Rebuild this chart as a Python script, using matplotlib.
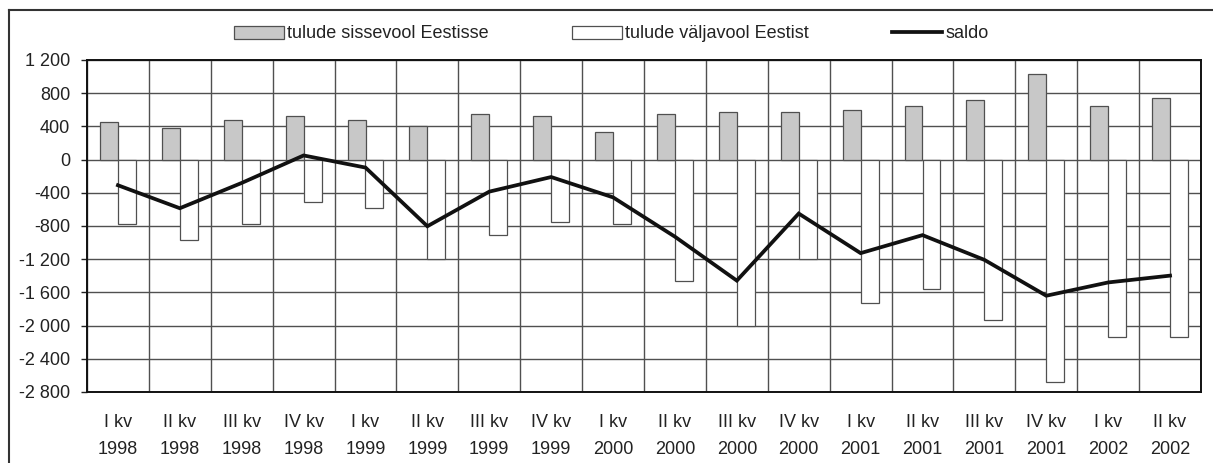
"""Tulude sissevool / väljavool Eestis, kvartalite kaupa 1998-2002"""
import numpy as np
from matplotlib import pyplot as plt
from matplotlib.lines import Line2D
from matplotlib.ticker import FuncFormatter

plt.rcParams['font.family'] = ['Liberation Sans', 'DejaVu Sans']

# ---------------- data ----------------
quarters = ["I kv", "II kv", "III kv", "IV kv", "I kv", "II kv", "III kv",
            "IV kv", "I kv", "II kv", "III kv", "IV kv", "I kv", "II kv",
            "III kv", "IV kv", "I kv", "II kv"]
years = ["1998", "1998", "1998", "1998", "1999", "1999", "1999", "1999",
         "2000", "2000", "2000", "2000", "2001", "2001", "2001", "2001",
         "2002", "2002"]
inflow = [454, 386, 482, 530, 482, 405, 554, 530, 335,
          554, 578, 578, 602, 651, 723, 1036, 651, 747]
outflow = [-775, -969, -775, -506, -578, -1200, -910, -748, -773,
           -1466, -2000, -1200, -1732, -1565, -1927, -2676, -2143, -2143]
saldo = [-309, -586, -281, 50, -96, -803, -386, -210, -455,
         -929, -1458, -650, -1127, -910, -1208, -1640, -1480, -1398]
y_ticks = list(range(-2800, 1201, 400))

GRID = "#505050"
TXT = "#222222"
FS = 13

f = plt.figure(figsize=(12.13, 4.63), dpi=100)
ax = f.add_axes([87 / 1213, 1 - 392 / 463, (1201 - 87) / 1213, 332 / 463])

x = np.arange(len(quarters))
w = 0.29
b1 = ax.bar(x - w / 2, inflow, w, color="#c8c8c8", edgecolor="#505050",
            linewidth=0.9, zorder=2, label="tulude sissevool Eestisse")
b2 = ax.bar(x + w / 2, outflow, w, color="white", edgecolor="#505050",
            linewidth=0.9, zorder=2, label="tulude väljavool Eestist")
ln, = ax.plot(x, saldo, color="#111111", linewidth=2.7, zorder=3,
              solid_joinstyle="miter", label="saldo")

ax.set_xlim(-0.5, len(quarters) - 0.5)
ax.set_ylim(-2800, 1200)
ax.set_yticks(y_ticks)
ax.yaxis.set_major_formatter(
    FuncFormatter(lambda v, _: f"{int(v):,}".replace(",", " ")))

ax.set_xticks(x)
ax.set_xticklabels([f"{q}\n{yr}" for q, yr in zip(quarters, years)],
                   linespacing=1.75)
ax.set_xticks(np.arange(-0.5, len(quarters), 1), minor=True)

ax.set_axisbelow(True)
ax.grid(True, axis="y", which="major", color=GRID, linewidth=1.0)
ax.grid(True, axis="x", which="minor", color=GRID, linewidth=1.0)
ax.grid(False, axis="x", which="major")

ax.tick_params(axis="x", which="both", length=0, pad=16, labelsize=FS,
               colors=TXT)
ax.tick_params(axis="y", length=4, width=1, pad=8, labelsize=FS,
               colors=TXT, labelcolor=TXT)
for s in ax.spines.values():
    s.set_color("#111111")
    s.set_linewidth(1.4)

# legend along the top
f.legend(handles=[b1, b2, ln], loc="center",
         bbox_to_anchor=(0.504, 1 - 34 / 463), ncol=3,
         frameon=False, fontsize=FS, handlelength=2.75, handleheight=0.75,
         handletextpad=0.2, columnspacing=4.6, labelcolor=TXT)

# outer frame (left and top edges visible only)
f.add_artist(Line2D([9 / 1213, 9 / 1213], [-0.02, 1 - 10 / 463],
                    transform=f.transFigure, color="#333333", linewidth=1.5))
f.add_artist(Line2D([9 / 1213, 1.02], [1 - 10 / 463, 1 - 10 / 463],
                    transform=f.transFigure, color="#333333", linewidth=1.5))

f.savefig("out.png", dpi=100)
plt.close(f)
